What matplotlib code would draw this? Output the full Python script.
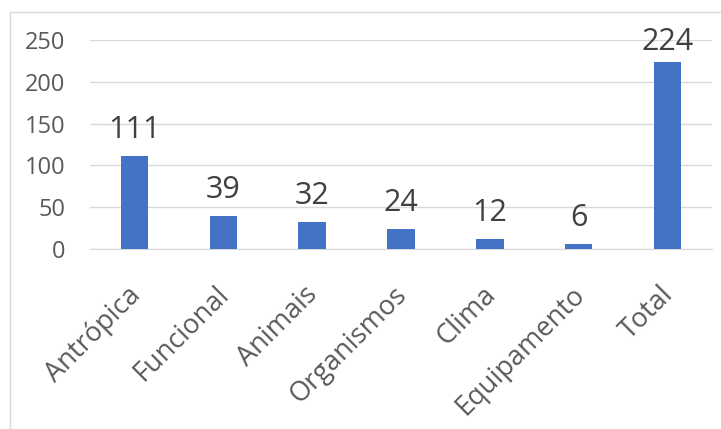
import matplotlib
matplotlib.use("Agg")
import matplotlib.pyplot as plt
from matplotlib.patches import Rectangle

# data
categories = ["Antrópica", "Funcional", "Animais", "Organismos", "Clima", "Equipamento", "Total"]
values = [111, 39, 32, 24, 12, 6, 224]
y_ticks = [0, 50, 100, 150, 200, 250]

plt.rcParams["font.family"] = ["Open Sans", "DejaVu Sans"]

fig = plt.figure(figsize=(7.21, 4.29), dpi=100)
ax = fig.add_axes([90 / 721, 1 - 249 / 429, 622 / 721, 209 / 429])

# light chart border (cropped on the right and bottom)
fig.patches.append(Rectangle((10 / 721, -0.1), 1.2, 1 - 12 / 429 + 0.1,
                             transform=fig.transFigure, fill=False,
                             edgecolor="#d9d9d9", linewidth=1.0))

x = list(range(len(categories)))
ax.bar(x, values, width=0.31, color="#4472C4", zorder=3)

ax.set_xlim(-0.5, len(categories) - 0.5)
ax.set_ylim(0, 250)
ax.set_yticks(y_ticks)
ax.set_yticklabels([str(t) for t in y_ticks], fontsize=17, color="#595959")
ax.set_xticks(x)
ax.set_xticklabels([])

# rotated category labels, ends tucked under each bar
for xi, cat in zip(x, categories):
    ax.annotate(cat, xy=(xi, 0), xycoords=("data", "axes fraction"),
                xytext=(-6, -23), textcoords="offset points",
                rotation=45, ha="right", va="top", rotation_mode="anchor",
                fontsize=19.5, color="#595959")

ax.grid(axis="y", color="#d9d9d9", linewidth=1.0, zorder=0)
for s in ["top", "right", "left"]:
    ax.spines[s].set_visible(False)
ax.spines["bottom"].set_color("#d9d9d9")
ax.tick_params(axis="y", length=0, pad=18)
ax.tick_params(axis="x", length=0)

# data labels, kept inside the plot area
for xi, v in zip(x, values):
    ax.text(xi, min(v + 21.5, 238), str(v), ha="center", va="baseline",
            fontsize=22, color="#404040")

fig.savefig("out.png", dpi=100)
